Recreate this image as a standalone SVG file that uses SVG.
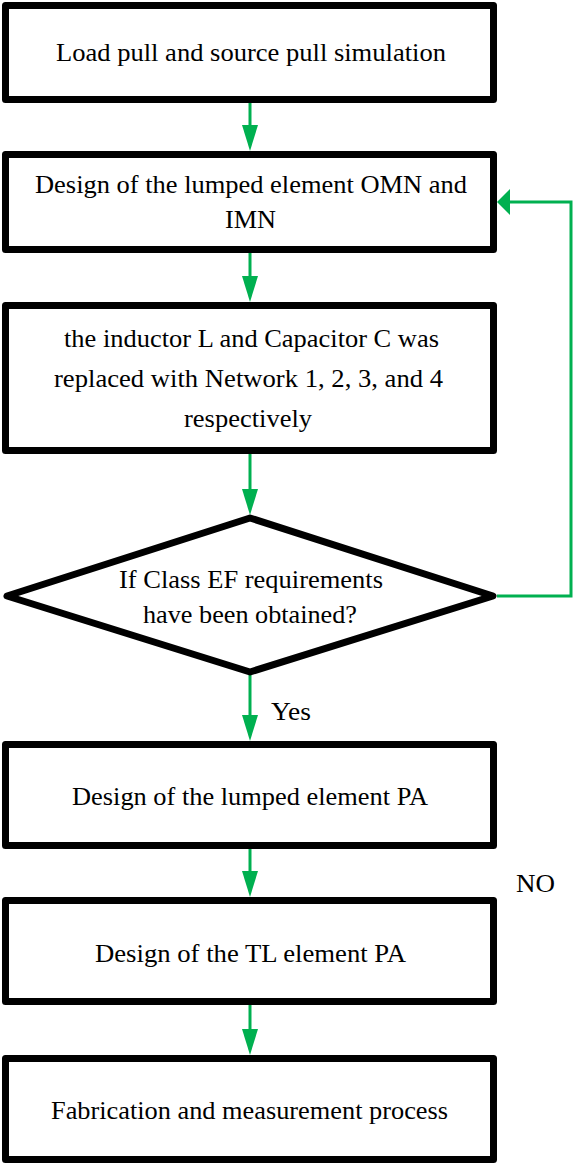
<svg xmlns="http://www.w3.org/2000/svg" width="575" height="1166" viewBox="0 0 575 1166">
<style>
.box{fill:#fff;stroke:#000;stroke-width:7;stroke-linejoin:round}
.c{fill:none;stroke:#00B050;stroke-width:3}
</style>
<defs>
<marker id="av" viewBox="0 0 26 16" refX="16" refY="8" markerWidth="26" markerHeight="16" markerUnits="userSpaceOnUse" orient="auto">
<path d="M0,0 L26,8 L0,16 Z" fill="#00B050"/>
</marker>
<marker id="ah" viewBox="0 0 13 26" refX="5" refY="13" markerWidth="13" markerHeight="26" markerUnits="userSpaceOnUse" orient="auto">
<path d="M0,0 L13,13 L0,26 Z" fill="#00B050"/>
</marker>
</defs>
<rect width="575" height="1166" fill="#fff"/>
<g id="connectors">
<path class="c" d="M250,103 V141" marker-end="url(#av)"/>
<path class="c" d="M250,253 V292" marker-end="url(#av)"/>
<path class="c" d="M250,454 V505" marker-end="url(#av)"/>
<path class="c" d="M250,675 V731" marker-end="url(#av)"/>
<path class="c" d="M250,849 V887" marker-end="url(#av)"/>
<path class="c" d="M250,1005 V1045" marker-end="url(#av)"/>
<path class="c" d="M497,596 H571 V202 H505" marker-end="url(#ah)"/>
<text x="271" y="720" font-family="Liberation Serif" font-size="26" textLength="40" lengthAdjust="spacingAndGlyphs">Yes</text>
<text x="516" y="892" font-family="Liberation Serif" font-size="26" textLength="39" lengthAdjust="spacingAndGlyphs">NO</text>
</g>
<g id="n1">
<rect class="box" x="5.5" y="5.5" width="488" height="94"/>
<text x="251" y="61" font-family="Liberation Serif" font-size="26" text-anchor="middle" textLength="390" lengthAdjust="spacingAndGlyphs">Load pull and source pull simulation</text>
</g>
<g id="n2">
<rect class="box" x="5.5" y="154.5" width="488" height="95"/>
<text x="251" y="193" font-family="Liberation Serif" font-size="26" text-anchor="middle" textLength="432" lengthAdjust="spacingAndGlyphs">Design of the lumped element OMN and</text>
<text x="250.5" y="228" font-family="Liberation Serif" font-size="26" text-anchor="middle" textLength="51" lengthAdjust="spacingAndGlyphs">IMN</text>
</g>
<g id="n3">
<rect class="box" x="5.5" y="305.5" width="488" height="145"/>
<text x="251.5" y="347" font-family="Liberation Serif" font-size="26" text-anchor="middle" textLength="375" lengthAdjust="spacingAndGlyphs">the inductor L and Capacitor C was</text>
<text x="248.5" y="387" font-family="Liberation Serif" font-size="26" text-anchor="middle" textLength="389" lengthAdjust="spacingAndGlyphs">replaced with Network 1, 2, 3, and 4</text>
<text x="248" y="427" font-family="Liberation Serif" font-size="26" text-anchor="middle" textLength="128" lengthAdjust="spacingAndGlyphs">respectively</text>
</g>
<g id="n4">
<polygon class="box" points="7,596 250,518 493,596 250,672"/>
<text x="251" y="588" font-family="Liberation Serif" font-size="26" text-anchor="middle" textLength="264" lengthAdjust="spacingAndGlyphs">If Class EF requirements</text>
<text x="250" y="623" font-family="Liberation Serif" font-size="26" text-anchor="middle" textLength="214" lengthAdjust="spacingAndGlyphs">have been obtained?</text>
</g>
<g id="n5">
<rect class="box" x="5.5" y="744.5" width="488" height="101"/>
<text x="250" y="805" font-family="Liberation Serif" font-size="26" text-anchor="middle" textLength="356" lengthAdjust="spacingAndGlyphs">Design of the lumped element PA</text>
</g>
<g id="n6">
<rect class="box" x="5.5" y="900.5" width="488" height="101"/>
<text x="250.5" y="962" font-family="Liberation Serif" font-size="26" text-anchor="middle" textLength="311" lengthAdjust="spacingAndGlyphs">Design of the TL element PA</text>
</g>
<g id="n7">
<rect class="box" x="5.5" y="1058.5" width="488" height="101"/>
<text x="249.5" y="1119" font-family="Liberation Serif" font-size="26" text-anchor="middle" textLength="397" lengthAdjust="spacingAndGlyphs">Fabrication and measurement process</text>
</g>
</svg>
